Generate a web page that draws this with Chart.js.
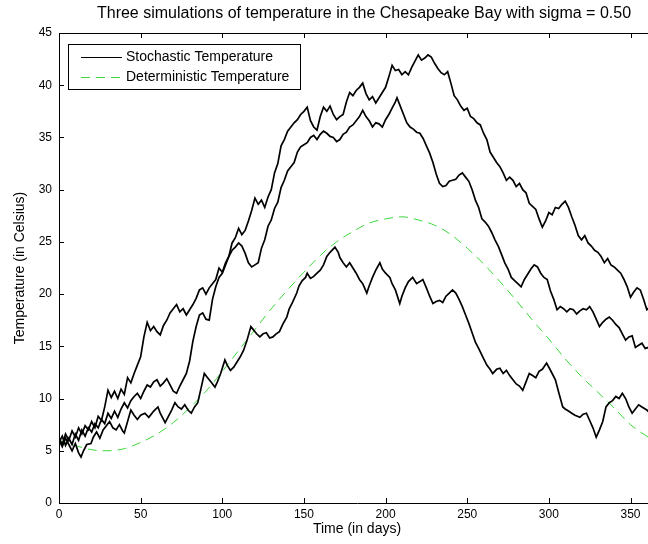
<!DOCTYPE html>
<html>
<head>
<meta charset="utf-8">
<script src="https://cdn.jsdelivr.net/npm/chart.js@4.4.1/dist/chart.umd.min.js"></script>
<style>
  html, body { margin: 0; padding: 0; background: #fff; overflow: hidden; }
  #wrap { position: relative; width: 660px; height: 544px; }
</style>
</head>
<body>
<div id="wrap"><canvas id="c"></canvas></div>
<script>
// ---- data ----
const titleText = 'Three simulations of temperature in the Chesapeake Bay with sigma = 0.50';
const xTitle = 'Time (in days)';
const yTitle = 'Temperature (in Celsius)';
const xTicks = [0, 50, 100, 150, 200, 250, 300, 350];
const yTicks = [0, 5, 10, 15, 20, 25, 30, 35, 40, 45];

const daysA = [0,2,4,6,8,10,12,14,16,18,20,22,24,26,28,30,32,34,36,38,40,42,44,46,48,50,52,54,56,58,60,62,64,66,68,70,72,74,76,78,80,82,84,86,88,90,92,94,96,98,100,102,104,106,108,110,112,114,116,118,120,122,124,126,128,130,132,134,136,138,140,142,144,146,148,150,152,154,156,158,160,162,164,166,168,170,172,174,176,178,180,182,184,186,188,190,192,194,196,198,200,202,204,206,208,210,212,214,216,218,220,222,224,226,228,230,232,234,236,238,240,242,244,246,248,250,252,254,256,258,260,262,264,266,268,270,272,274,276,278,280,282,284,286,288,290,292,294,296,298,300,302,304,306,308,310,312,314,316,318,320,322,324,326,328,330,332,334,336,338,340,342,344,346,348,350,352,354,356,358,360,362,364];
const tempA = [6.2,5.6,6.6,6.0,6.9,6.3,7.2,6.6,7.4,7.0,7.8,7.2,8.3,7.9,9.2,10.8,10.1,10.7,10.0,10.9,10.4,12.0,11.5,12.4,13.2,14.0,15.9,17.3,16.5,16.9,16.4,16.1,17.0,17.5,18.2,18.6,19.0,18.3,18.6,18.0,18.5,19.0,19.6,20.4,20.6,20.0,20.6,21.0,21.4,22.5,22.1,23.0,23.6,24.9,25.4,26.3,25.7,26.1,27.0,28.0,29.2,28.6,29.0,28.3,29.3,30.0,31.6,32.5,34.2,34.8,35.6,36.0,36.4,36.7,37.2,37.5,37.9,36.6,36.0,35.7,37.0,37.9,37.5,38.0,37.2,36.7,37.0,37.2,38.4,39.3,39.0,39.5,39.8,40.2,39.2,38.6,38.9,38.3,38.8,39.3,39.8,40.8,41.9,41.4,41.5,41.0,41.3,41.0,41.7,42.3,42.9,42.4,42.6,42.9,42.7,42.1,41.6,41.2,41.0,41.3,40.2,39.0,38.6,38.0,37.6,37.8,37.0,36.8,36.4,36.2,35.4,34.8,33.6,33.1,32.6,32.2,31.6,30.9,31.2,30.9,30.3,30.6,30.0,29.7,28.7,28.4,28.1,27.2,26.4,27.0,27.8,27.6,28.3,28.2,28.6,28.9,28.3,27.4,26.6,25.6,25.2,25.6,24.9,24.6,24.2,24.0,23.6,23.0,23.4,22.8,22.6,22.3,22.0,21.4,20.7,19.7,20.2,20.6,20.4,19.5,18.5,18.8,18.2];

const daysB = [0,2,4,6,8,10,12,14,16,18,20,22,24,26,28,30,32,34,36,38,40,42,44,46,48,50,52,54,56,58,60,62,64,66,68,70,72,74,76,78,80,82,84,86,88,90,92,94,96,98,100,102,104,106,108,110,112,114,116,118,120,122,124,126,128,130,132,134,136,138,140,142,144,146,148,150,152,154,156,158,160,162,164,166,168,170,172,174,176,178,180,182,184,186,188,190,192,194,196,198,200,202,204,206,207,209,211,213,215,217,219,221,223,225,227,229,231,233,235,237,239,241,243,245,247,249,251,253,255,257,259,261,263,265,267,269,271,273,275,277,279,281,283,285,287,289,291,293,295,297,299,301,303,305,307,309,311,313,315,317,319,321,323,325,327,329,331,333,335,337,339,341,343,345,347,349,351,353,355,357,359,361,363,365];
const tempB = [5.8,6.4,5.5,6.2,5.6,6.6,6.0,7.0,6.4,7.2,6.8,7.6,7.2,8.0,7.6,8.6,8.1,8.8,8.2,9.0,9.6,9.1,9.8,10.2,10.5,10.0,10.7,11.3,11.1,11.6,11.8,11.2,11.5,11.9,11.3,10.7,10.5,11.2,11.8,12.4,13.6,15.5,16.9,18.0,18.2,17.6,17.5,19.5,20.7,21.6,22.0,22.8,23.6,24.2,24.5,24.9,24.6,23.9,23.0,22.6,22.8,23.0,24.4,25.2,26.5,27.1,28.2,28.8,30.2,30.9,31.8,32.2,32.6,33.6,34.1,34.3,34.5,35.0,35.2,34.8,35.3,35.6,35.4,35.1,35.0,34.6,34.8,35.3,35.5,36.0,36.2,36.6,37.0,37.6,37.0,36.6,36.0,36.4,36.3,36.0,36.7,37.2,37.8,38.4,38.8,38.0,37.2,36.4,36.0,35.8,35.5,35.4,34.9,34.2,33.5,32.6,31.5,30.6,30.3,30.4,30.8,30.9,31.0,31.4,31.6,31.2,30.8,30.0,29.0,28.3,27.2,26.9,26.5,25.9,25.2,24.6,23.8,23.0,22.4,21.6,21.3,21.0,20.7,21.4,21.9,22.4,22.8,22.6,22.0,21.6,21.4,20.3,19.5,18.5,18.8,18.6,18.3,18.6,18.5,18.1,18.4,18.6,18.5,18.8,18.3,17.6,16.9,17.3,17.6,17.8,17.5,17.1,16.8,16.2,15.6,15.9,16.0,14.9,15.1,15.3,14.8,14.9,15.2,15.0];

const daysC = [0,2,4,6,8,10,12,13.5,15,17,19.6,21,23,25,27,29,31,33,35,37,39,40,42,44,46,48,50,52.6,55,58,60.6,62,65,67,69,71,73,75,77,79,81,83,85,87,89,91,93,95.5,97,99,101.6,103,105,107,109,111,113,115,117.5,119,121,123,125,127,129,131,133,135,137,139.5,141,143,145.6,147,149,151,152,154,156,158,160,162,164,166,169,171,172,174,176,178,180,182,184,186,188.5,190,192,194,196.5,198,200,202.6,204,206,208.7,210,212,214,216.6,219,221,222.8,225,227,229,231,233,235,237,239,241,243,245,247,249,251,253,255,257,259.5,262,264,265.6,268,270,272,274,276,278,280,282,284,286,288,290,292,294,296,298.6,300,302,304,306,308.5,310,312,314,316,319,321,323,325,327,329,331,333,335,337,339,341,343,345,347,349,351,353,355,357,360,362,365];
const tempC = [6.0,5.4,6.2,5.6,5.0,5.7,4.8,4.4,5.0,5.6,5.7,6.3,6.8,6.2,7.0,7.4,7.8,7.2,7.0,7.5,6.9,6.7,7.8,8.9,8.4,8.0,8.4,8.6,8.2,8.8,9.2,8.6,7.7,8.3,8.9,9.6,9.2,9.0,9.4,8.9,8.6,9.2,9.6,11.0,12.4,12.0,11.6,11.1,11.6,12.4,13.7,13.2,12.7,13.0,13.5,14.0,14.6,15.5,16.9,16.6,16.2,15.9,16.2,16.3,15.8,15.9,16.2,16.4,17.1,17.8,18.6,19.2,20.1,20.8,21.3,21.6,22.0,21.5,21.7,22.0,22.3,22.8,23.6,24.0,24.5,24.0,23.5,23.0,22.6,23.0,22.5,22.0,21.4,21.0,20.1,20.8,21.6,22.3,23.0,22.4,22.0,21.6,21.0,20.4,19.1,19.8,20.6,21.2,21.6,21.0,21.2,21.4,20.6,19.8,19.1,19.3,19.4,19.2,19.8,20.1,20.4,20.1,19.5,18.8,18.0,17.2,16.3,15.4,14.8,14.0,13.2,12.8,12.4,12.8,12.9,12.4,12.7,12.2,11.8,11.4,11.2,10.8,11.6,12.4,12.2,12.0,12.6,12.8,13.4,13.0,12.4,11.8,10.6,9.2,9.0,8.8,8.6,8.4,8.2,8.5,8.6,7.9,7.2,6.3,7.0,7.8,9.2,9.6,9.8,10.2,10.0,10.5,10.0,9.2,8.6,9.0,9.4,9.2,8.9,8.6,8.4];

const daysDet = [0,10,20,30,40,50,60,70,80,90,100,110,120,130,140,150,160,170,180,190,200,210,220,230,240,250,260,270,280,290,300,310,320,330,340,350,360,365];
const tempDet = [6.0,5.5,5.1,5.0,5.2,5.8,6.6,7.7,9.1,10.7,12.6,14.6,16.6,18.6,20.4,22.1,23.7,25.0,26.0,26.8,27.2,27.4,27.1,26.6,25.7,24.4,22.9,21.2,19.4,17.5,15.7,13.8,12.1,10.6,9.1,7.5,6.4,6.0];

const legendLabels = ['Stochastic Temperature', 'Deterministic Temperature'];

// ---- build chart ----
const FONT = "'Liberation Sans', Arial, Helvetica, sans-serif";
const pts = (xs, ys) => xs.map((x, i) => ({x: x, y: ys[i]}));
const stochStyle = {borderColor: '#000', borderWidth: 1.7, pointRadius: 0, tension: 0, fill: false};

const datasets = [
  Object.assign({label: legendLabels[0], data: pts(daysA, tempA), legendIdx: 0}, stochStyle),
  Object.assign({label: legendLabels[0], data: pts(daysB, tempB)}, stochStyle),
  Object.assign({label: legendLabels[0], data: pts(daysC, tempC)}, stochStyle),
  {label: legendLabels[1], data: pts(daysDet, tempDet), legendIdx: 1, borderColor: '#3ad83a', borderWidth: 1, borderDash: [9, 6], pointRadius: 0, tension: 0.4, cubicInterpolationMode: 'monotone', fill: false}
];

const decorPlugin = {
  id: 'decor',
  afterDraw(chart) {
    const ctx = chart.ctx, a = chart.chartArea;
    const xs = chart.scales.x, ys = chart.scales.y;
    ctx.save();
    ctx.strokeStyle = '#000';
    ctx.lineWidth = 1;
    // frame (top + right)
    ctx.beginPath();
    ctx.moveTo(a.left, a.top + 0.5); ctx.lineTo(a.right, a.top + 0.5);
    ctx.moveTo(a.right - 0.5, a.top); ctx.lineTo(a.right - 0.5, a.bottom);
    ctx.stroke();
    // inward ticks
    const TL = 5;
    ctx.beginPath();
    xs.ticks.forEach(t => {
      const p = Math.round(xs.getPixelForValue(t.value)) + 0.5;
      ctx.moveTo(p, a.bottom); ctx.lineTo(p, a.bottom - TL);
      ctx.moveTo(p, a.top); ctx.lineTo(p, a.top + TL);
    });
    ys.ticks.forEach(t => {
      const p = Math.round(ys.getPixelForValue(t.value)) + 0.5;
      ctx.moveTo(a.left, p); ctx.lineTo(a.left + TL, p);
      ctx.moveTo(a.right, p); ctx.lineTo(a.right - TL, p);
    });
    ctx.stroke();
    // title
    ctx.fillStyle = '#000';
    ctx.font = '16px ' + FONT;
    ctx.textAlign = 'center';
    ctx.textBaseline = 'middle';
    ctx.fillText(titleText, (a.left + a.right) / 2 + 7, 14);
    // legend
    const bx = 68, by = 44, bw = 232, bh = 45;
    ctx.fillStyle = '#fff';
    ctx.fillRect(bx, by, bw, bh);
    ctx.strokeRect(bx + 0.5, by + 0.5, bw, bh);
    ctx.font = '14px ' + FONT;
    ctx.textAlign = 'left';
    chart.data.datasets.filter(d => d.legendIdx !== undefined).forEach(d => {
      const rowY = by + 13 + d.legendIdx * 20;
      ctx.save();
      ctx.strokeStyle = d.borderColor;
      ctx.lineWidth = 1;
      ctx.setLineDash(d.borderDash || []);
      ctx.beginPath();
      ctx.moveTo(bx + 13, rowY + 0.5); ctx.lineTo(bx + 54, rowY + 0.5);
      ctx.stroke();
      ctx.restore();
      ctx.fillStyle = '#000';
      ctx.fillText(d.label, bx + 58, rowY);
    });
    ctx.restore();
  }
};

new Chart(document.getElementById('c'), {
  type: 'line',
  data: {datasets: datasets},
  options: {
    responsive: true,
    maintainAspectRatio: false,
    animation: false,
    events: [],
    layout: {padding: {top: 33, left: 0, right: 5, bottom: 0}},
    plugins: {legend: {display: false}, tooltip: {enabled: false}, title: {display: false}},
    scales: {
      x: {
        type: 'linear', min: 0, max: 365,
        afterBuildTicks: s => { s.ticks = xTicks.map(v => ({value: v})); },
        afterFit: s => { s.height = 41; },
        ticks: {font: {family: FONT, size: 12}, color: '#000', padding: 4, maxRotation: 0, includeBounds: false},
        grid: {display: true, drawOnChartArea: false, drawTicks: false},
        border: {display: true, color: '#000', width: 1},
        title: {display: true, text: xTitle, font: {family: FONT, size: 14}, color: '#000', padding: {top: 0, bottom: 6}}
      },
      y: {
        type: 'linear', min: 0, max: 45,
        afterBuildTicks: s => { s.ticks = yTicks.map(v => ({value: v})); },
        afterFit: s => { s.width = 59; },
        ticks: {font: {family: FONT, size: 12}, color: '#000', padding: 7},
        grid: {display: true, drawOnChartArea: false, drawTicks: false},
        border: {display: true, color: '#000', width: 1},
        title: {display: true, text: yTitle, font: {family: FONT, size: 14}, color: '#000', padding: {top: 12, bottom: 0}}
      }
    }
  },
  plugins: [decorPlugin]
});
</script>
</body>
</html>
